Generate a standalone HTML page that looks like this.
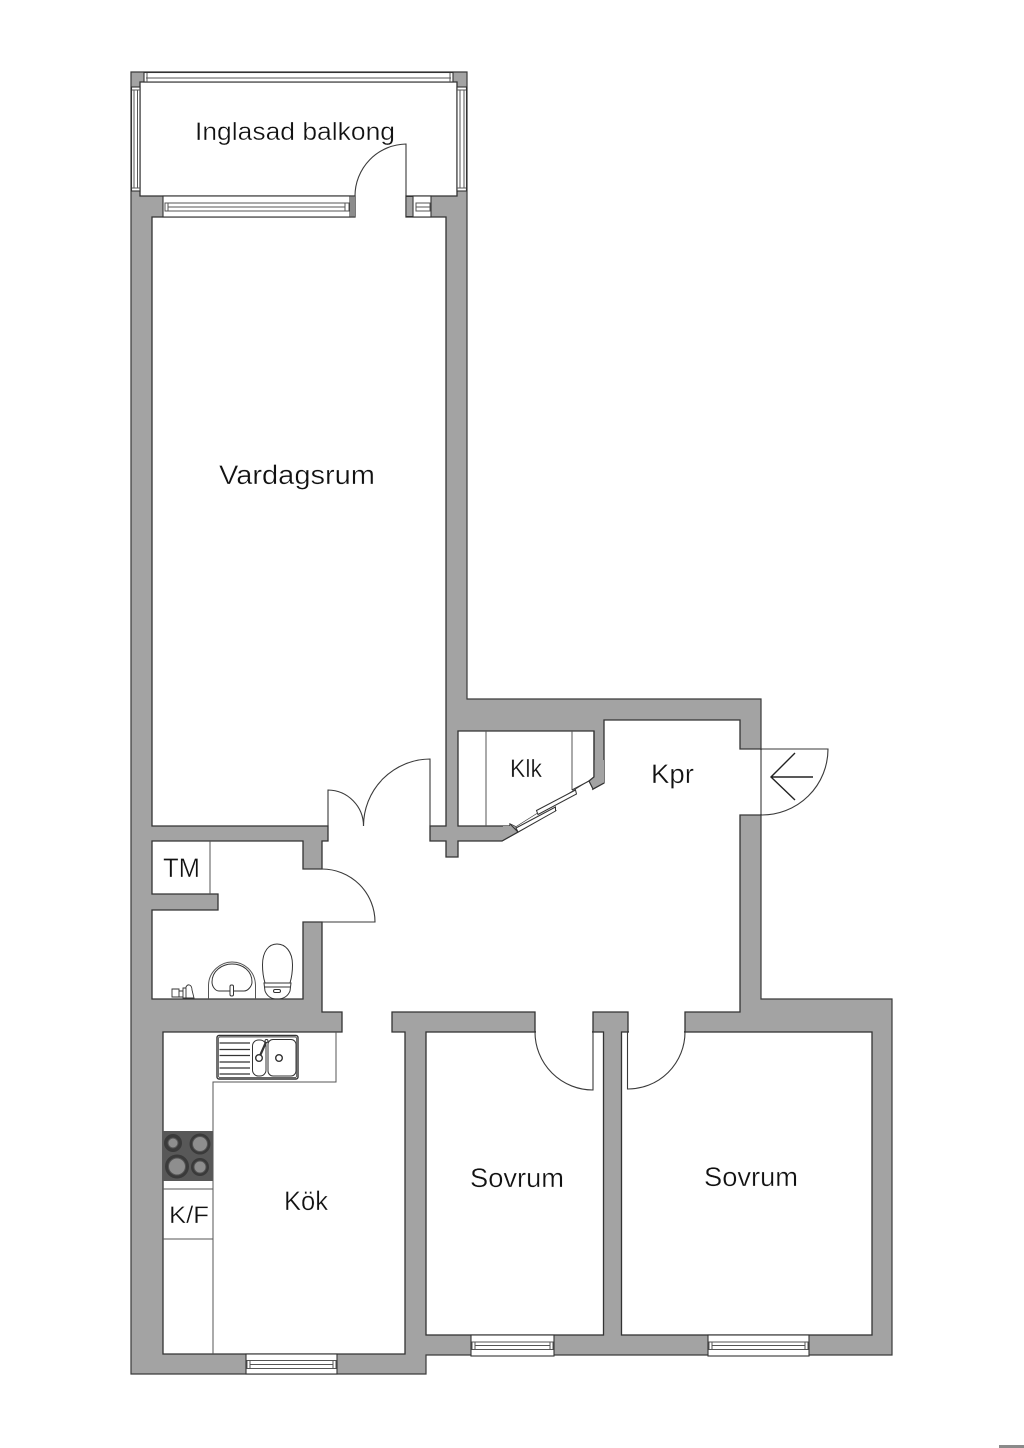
<!DOCTYPE html>
<html>
<head>
<meta charset="utf-8">
<style>
html,body{margin:0;padding:0;background:#fff;width:1024px;height:1448px;overflow:hidden}
svg{display:block}
text{font-family:"Liberation Sans",sans-serif;fill:#111;stroke:#fff;stroke-width:.35px}
</style>
</head>
<body>
<svg width="1024" height="1448" viewBox="0 0 1024 1448" xmlns="http://www.w3.org/2000/svg">
<rect width="1024" height="1448" fill="#fff"/>
<rect x="999" y="1445" width="25" height="3" fill="#8a8a8a"/>

<!-- outer walls -->
<path d="M131 72H467V699H761V999H892V1355H426V1374H131Z" fill="#a3a3a3" stroke="#3a3a3a" stroke-width="1.2"/>

<!-- connected interior -->
<path d="M604 720H740V749H761V815H740V1012H685V1032H628V1012H593V1032H535V1012H392V1032H405V1354H163V1032H342V1012H322V922H303V999H152V910H218V894H152V841H303V869H322V841H328V826H152V217H355V196H140V82H457V196H406V217H446V826H430V841H446V857H458V841H502L518 832L593 789L604 783Z" fill="#fff" stroke="#333" stroke-width="1.3" stroke-linejoin="miter"/>

<!-- bedrooms -->
<rect x="426" y="1032" width="177.500" height="303" fill="#fff" stroke="#333" stroke-width="1.3"/>
<rect x="621.500" y="1032" width="250.500" height="303" fill="#fff" stroke="#333" stroke-width="1.3"/>

<!-- openings cover -->
<rect x="356" y="195" width="49" height="23" fill="#fff"/>
<rect x="741" y="750" width="21" height="64" fill="#fff"/>
<rect x="303" y="870" width="20" height="51" fill="#fff"/>
<rect x="329" y="825" width="100" height="17" fill="#fff"/>
<rect x="536" y="1011" width="56" height="22" fill="#fff"/>
<rect x="629" y="1011" width="55" height="22" fill="#fff"/>
<rect x="343" y="1011" width="48" height="22" fill="#fff"/>

<!-- closet -->
<path d="M458 731H594V777L589 781L516 827L510 824V826H458Z" fill="#fff" stroke="#333" stroke-width="1.3"/>
<path d="M516 827L589 781L593 789L518 832Z" fill="#fff"/>
<path d="M510 824L516 827L518 832L502 841L503 826H510Z" fill="#a3a3a3"/>
<path d="M510 824L518 832L502 841" fill="none" stroke="#333" stroke-width="1.1"/>
<path d="M589 781L593 789L604 783V760L594 760V777Z" fill="#a3a3a3"/>
<path d="M594 731V777L589 781L593 789L604 783" fill="none" stroke="#333" stroke-width="1.2"/>
<path d="M486 731V826M572 731V790" stroke="#555" stroke-width="1" fill="none"/>
<path d="M572 790L589 781" stroke="#333" stroke-width="1"/>
<path d="M557 811L592 790" stroke="#fff" stroke-width="2.500"/>
<path d="M516 828L555.500 807L555.500 811L518 832Z" fill="#fff" stroke="#333" stroke-width="1"/>
<path d="M536.500 810.500L575.500 790L576.500 794L538 814.500Z" fill="#fff" stroke="#333" stroke-width="1"/>

<!-- windows -->
<g fill="#fff" stroke="#333" stroke-width="1.1">
  <rect x="144" y="72.500" width="309" height="9.500"/>
  <rect x="131.500" y="87" width="8.500" height="104"/>
  <rect x="457" y="87" width="9.500" height="104"/>
  <rect x="163" y="196" width="187" height="21"/>
  <rect x="413" y="196" width="18" height="21"/>
  <rect x="246" y="1354" width="91" height="20"/>
  <rect x="471" y="1335" width="83" height="21"/>
  <rect x="708" y="1335" width="101" height="21"/>
</g>
<g fill="none" stroke="#555" stroke-width="1">
  <path d="M146 78H451M147 73V82M450 73V82"/>
  <path d="M134 90V188M137.500 90V188M132 90H140M132 188H140"/>
  <path d="M460 90V188M464 90V188M457 90H466M457 188H466"/>
  <rect x="165" y="203" width="184" height="8"/>
  <path d="M168 203V211M345 203V211M168 207H345"/>
  <rect x="416" y="203" width="14" height="8"/>
  <path d="M416 207H430"/>
  <rect x="247" y="1360.500" width="89" height="8"/>
  <path d="M250 1360.500V1368.500M333 1360.500V1368.500M250 1364.500H333"/>
  <rect x="472" y="1342" width="81" height="7.500"/>
  <path d="M475 1342V1349.500M550 1342V1349.500M475 1345.500H550"/>
  <rect x="709" y="1342" width="99" height="7.500"/>
  <path d="M712 1342V1349.500M805 1342V1349.500M712 1345.500H805"/>
</g>
<rect x="350" y="196.500" width="5" height="20" fill="#8c8c8c"/>
<rect x="406" y="196.500" width="7" height="20" fill="#a3a3a3" stroke="#333" stroke-width="1"/>

<!-- doors -->
<g fill="none" stroke="#3a3a3a" stroke-width="1.1">
  <path d="M406 196V144A52 52 0 0 0 355 196"/>
  <path d="M303 922H375A53 53 0 0 0 322 869H303"/>
  <path d="M328 826V790A36 36 0 0 1 363.500 826"/>
  <path d="M430 826V759A67 67 0 0 0 363.500 826"/>
  <path d="M535 1032A58 58 0 0 0 593 1090V1032"/>
  <path d="M627.500 1032V1089A57 57 0 0 0 685 1032"/>
  <path d="M740 749H828A66 66 0 0 1 761 815H740M761 749V815"/>
</g>
<path d="M813 777H771M795 753L771 777L795 800" fill="none" stroke="#222" stroke-width="1.400"/>

<!-- TM cabinet and kitchen cabinets -->
<path d="M210 841V894" stroke="#555" stroke-width="1"/>
<path d="M336 1032V1082H213V1354M163 1189H213M163 1239H213" fill="none" stroke="#555" stroke-width="1"/>

<!-- kitchen sink -->
<g fill="none" stroke="#333">
  <rect x="217" y="1035.500" width="81" height="43.500" rx="2" stroke-width="1.400" fill="#fff"/>
  <rect x="218.500" y="1037" width="78" height="40.500" rx="1.500" stroke-width=".7"/>
  <path d="M219.500 1043H250M219.500 1049.500H250M219.500 1055.500H250M219.500 1062H250M219.500 1068H250M219.500 1074H250" stroke-width="1.300"/>
  <rect x="252.500" y="1040" width="13.500" height="36" rx="6" stroke-width="1"/>
  <rect x="268" y="1039.500" width="28" height="36.500" rx="5" stroke-width="1"/>
  <path d="M259 1058L266.500 1041" stroke-width="2.200"/>
  <circle cx="259" cy="1058" r="3.300" stroke-width="1.400" fill="#fff"/>
  <circle cx="279" cy="1058" r="3.300" stroke-width="1.400" fill="#fff"/>
  <circle cx="266.500" cy="1041" r="1.500" stroke-width="1" fill="#fff"/>
</g>

<!-- hob -->
<rect x="163" y="1131" width="50" height="50" fill="#585858"/>
<g fill="#3a3a3a">
  <circle cx="173" cy="1143" r="9"/>
  <circle cx="200" cy="1144" r="10.500"/>
  <circle cx="177" cy="1166.500" r="12"/>
  <circle cx="200" cy="1167" r="9"/>
</g>
<g fill="#8e8e8e" stroke="#555" stroke-width="1">
  <circle cx="173" cy="1143" r="5"/>
  <circle cx="200" cy="1144" r="7.500"/>
  <circle cx="177" cy="1166.500" r="8.500"/>
  <circle cx="200" cy="1167" r="6"/>
</g>

<!-- WC sink -->
<g fill="none" stroke="#333" stroke-width="1">
  <path d="M208.500 999V985C209 971 221 962 232 962C244 962 255 971 255.500 985V999" stroke="#555"/>
  <path d="M212 982C212 971 222 964 232 964C243 964 252 971 252 982C252 986 248 991 244 991H219C215 991 212 986 212 982Z"/>
  <rect x="230" y="985" width="3.500" height="11" rx="1.500" fill="#fff"/>
  <path d="M262.500 965C262.500 951 269 944 277 944C285 944 292.500 951 292.500 965C292.500 972 291.500 978 290 983H265C263.500 978 262.500 972 262.500 965Z"/>
  <path d="M264 983H291L290 991C288 996 284 999 277 999C271 999 267 996 265 991Z"/>
  <path d="M265 987H290"/>
  <rect x="273.500" y="989.500" width="7" height="3" rx="1.500"/>
  <path d="M172 989H179V997H172ZM179 991H183V997H179ZM183 988H186V998H183ZM186 987C188 983 192 985 192 990L194 998H186Z" stroke-width=".9" fill="#fff"/>
</g>

<!-- labels -->
<text x="195" y="140" font-size="25" textLength="200" lengthAdjust="spacingAndGlyphs">Inglasad balkong</text>
<text x="219" y="484" font-size="27" textLength="156" lengthAdjust="spacingAndGlyphs">Vardagsrum</text>
<text x="510" y="777" font-size="25" textLength="32" lengthAdjust="spacingAndGlyphs">Klk</text>
<text x="651" y="783" font-size="27" textLength="43" lengthAdjust="spacingAndGlyphs">Kpr</text>
<text x="163" y="877" font-size="27" textLength="37" lengthAdjust="spacingAndGlyphs">TM</text>
<text x="169" y="1223" font-size="24" textLength="40" lengthAdjust="spacingAndGlyphs">K/F</text>
<text x="284" y="1210" font-size="27" textLength="44" lengthAdjust="spacingAndGlyphs">Kök</text>
<text x="470" y="1187" font-size="27" textLength="94" lengthAdjust="spacingAndGlyphs">Sovrum</text>
<text x="704" y="1186" font-size="27" textLength="94" lengthAdjust="spacingAndGlyphs">Sovrum</text>
</svg>
</body>
</html>
